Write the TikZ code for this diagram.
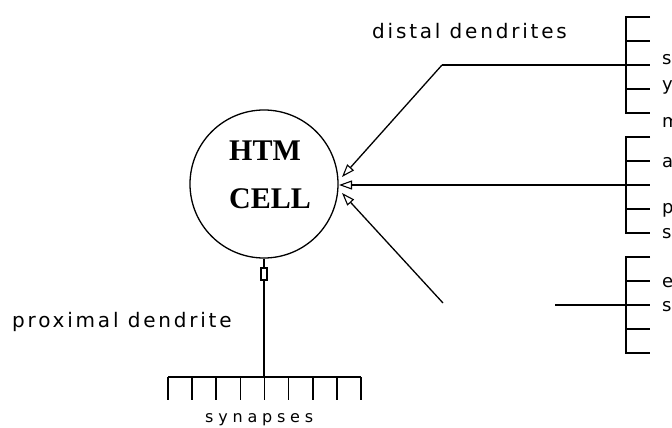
\documentclass[tikz,border=0pt]{standalone}
\usepackage{fontspec}
\setmainfont{DejaVu Sans}
\newfontfamily\cellfont{Liberation Serif}
\usetikzlibrary{arrows.meta,calc}

\begin{document}
\begin{tikzpicture}[x=1pt,y=-1pt,
  wire/.style={line width=1.3pt},
  comb/.style={line width=1.7pt},
  into/.style={wire,-{Triangle[open,length=13pt,width=9pt,line width=1.1pt]}},
  tagtext/.style={inner sep=0pt,anchor=base west,
    font=\fontsize{20}{24}\selectfont\addfontfeatures{LetterSpace=14}},
  sidetext/.style={inner sep=0pt,anchor=base west,
    font=\fontsize{18}{22}\selectfont},
  celltext/.style={inner sep=0pt,anchor=base,
    font=\cellfont\bfseries\fontsize{30}{34}\selectfont}]
\useasboundingbox (0,0) rectangle (672,428);
\clip (0,0) rectangle (672,428);

% the cell body
\node[circle,draw,line width=1.3pt,minimum size=148pt,inner sep=0pt] (cell) at (264,184) {};
\node[celltext] (htm) at (265,160) {HTM};
\node[celltext] (cellword) at (270,208) {CELL};

% synapse combs on the right, one per distal dendrite
\coordinate (b1) at (626,65);
\coordinate (b2) at (626,185);
\coordinate (b3) at (626,305);
\foreach \c in {b1,b2,b3}{
  \draw[comb] ($(\c)+(24,-48)$) -- ($(\c)+(0,-48)$) -- ($(\c)+(0,48)$) -- ($(\c)+(24,48)$);
  \foreach \d in {-24,0,24} \draw[comb] ($(\c)+(0,\d)$) -- ++(24,0);
}

% distal dendrites running into the cell
\coordinate (j1) at (442,65);
\coordinate (j3) at (443,303);
\coordinate (s3) at (555,305);
\coordinate (t1) at (342,177);
\coordinate (t2) at (339,185);
\coordinate (t3) at (342,193);
\draw[wire] (b1) -- (j1);
\draw[into] (j1) -- (t1);
\draw[into] (b2) -- (t2);
\draw[wire] (b3) -- (s3);
\draw[into] (j3) -- (t3);

% proximal dendrite and its synapses
\node[draw,line width=1.2pt,fill=white,minimum width=6pt,minimum height=12pt,inner sep=0pt] (gate) at (264,274) {};
\coordinate (root) at (264,377);
\coordinate (sl) at (168,377);
\coordinate (sr) at (361,377);
\draw[line width=2.2pt] (cell.south) -- (gate.north);
\draw[wire] (gate.south) -- (root);
\draw[comb] (sl) -- (sr);
\foreach \k in {0,...,8} \draw[comb] ($(sl)+(24.125*\k,0)$) -- ++(0,23);

% labels
\node[tagtext] (distal) at (372,39) {distal dendrites};
\node[tagtext] (proximal) at (12,327) {proximal dendrite};
\node[inner sep=0pt,anchor=base west,font=\fontsize{16}{20}\selectfont\addfontfeatures{LetterSpace=30}] (syn) at (205,422) {synapses};
\foreach \ch/\yy in {s/65,y/90,m/127,a/167,p/213,s/238,e/287,s/311}
  \node[sidetext] at (662,\yy) {\ch};
\end{tikzpicture}
\end{document}
